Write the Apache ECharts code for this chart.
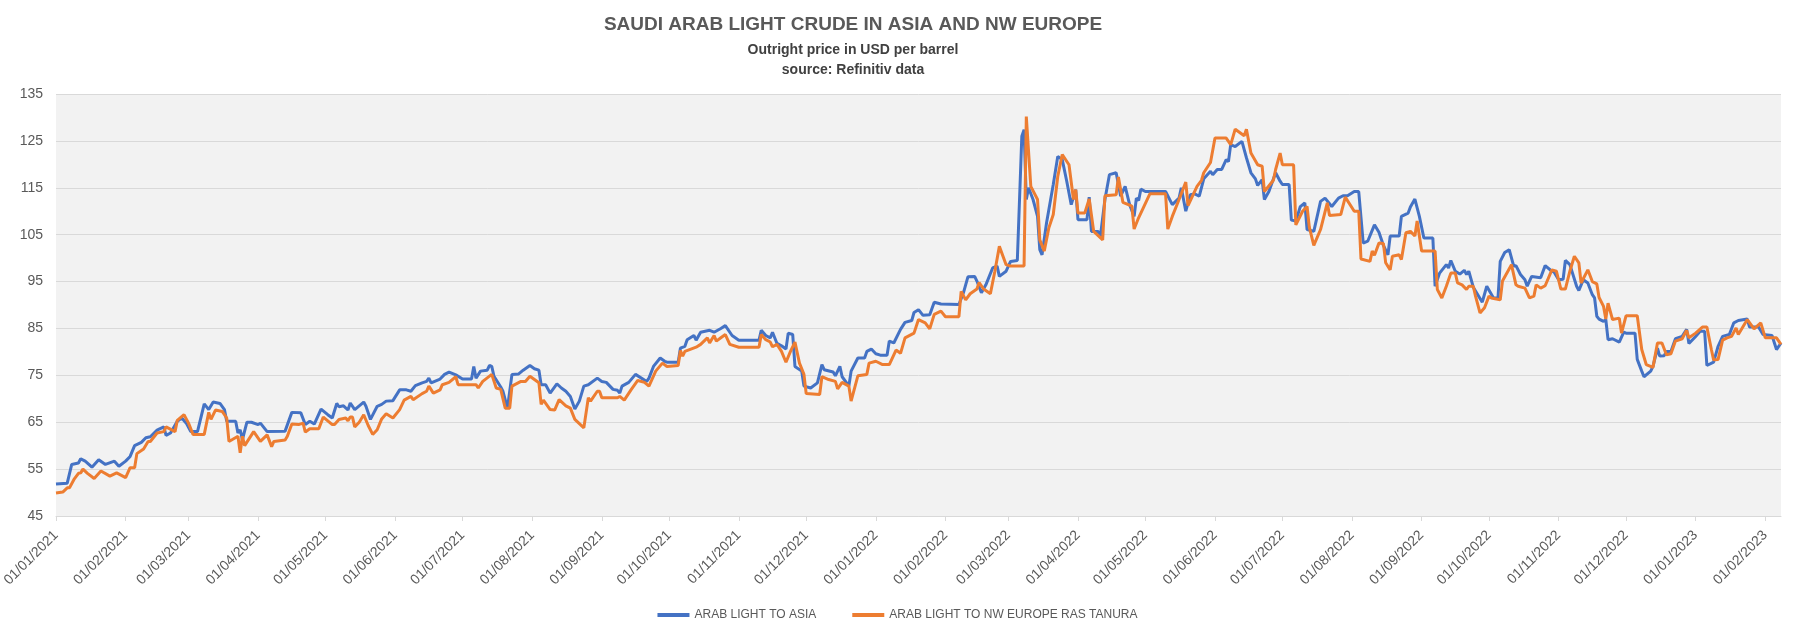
<!DOCTYPE html>
<html>
<head>
<meta charset="utf-8">
<script src="https://cdn.jsdelivr.net/npm/echarts@6/dist/echarts.min.js"></script>
<style>
html,body{margin:0;padding:0;background:#fff;}
#chart{width:1795px;height:633px;}
</style>
</head>
<body>
<div id="chart"></div>
<script>
// X values are days counted from 01/01/2021
const monthTickLabels = ['01/01/2021','01/02/2021','01/03/2021','01/04/2021','01/05/2021','01/06/2021',
  '01/07/2021','01/08/2021','01/09/2021','01/10/2021','01/11/2021','01/12/2021',
  '01/01/2022','01/02/2022','01/03/2022','01/04/2022','01/05/2022','01/06/2022',
  '01/07/2022','01/08/2022','01/09/2022','01/10/2022','01/11/2022','01/12/2022',
  '01/01/2023','01/02/2023'];

const asiaDays = [
  0,5,7,10,11,13,16,19,22,26,
  28,31,33,35,38,40,42,45,48,49,
  51,54,56,58,60,63,66,68,70,73,
  75,76,80,81,82,83,85,87,90,91,
  94,102,105,109,111,113,115,118,121,123,
  125,126,128,130,131,133,137,138,140,143,
  145,147,150,153,156,158,160,163,165,166,
  167,171,173,175,178,181,185,186,187,189,
  192,193,194,195,198,199,201,203,206,208,
  211,213,215,216,218,220,223,225,227,229,
  231,233,235,237,241,243,245,248,250,251,
  252,255,258,263,264,266,269,271,272,277,
  278,280,281,284,285,287,291,293,296,298,
  301,304,313,314,316,318,319,321,323,325,
  326,328,329,332,333,336,339,341,342,346,
  347,349,350,352,353,354,357,360,361,363,
  365,367,370,371,373,376,378,381,382,384,
  386,389,391,394,402,404,406,409,410,412,
  414,417,419,420,423,425,428,430,431,432,
  433,435,437,438,439,441,444,446,448,450,
  452,454,455,459,460,461,464,465,467,469,
  472,474,476,478,480,481,482,483,485,494,
  497,500,501,503,505,507,509,511,514,515,
  517,519,521,522,523,525,528,530,532,534,
  535,537,538,540,543,545,546,549,550,552,
  554,556,557,560,563,565,568,571,573,575,
  578,580,582,584,587,589,591,593,594,598,
  599,602,603,605,607,609,613,614,616,619,
  620,621,623,625,627,628,629,631,635,637,
  640,642,643,645,647,649,650,652,654,655,
  657,661,663,666,667,669,671,672,674,677,
  678,680,682,684,685,686,687,689,690,691,
  693,696,698,699,703,704,706,707,710,711,
  713,714,716,717,719,721,724,726,727,730,
  732,734,735,738,740,742,745,747,749,753,
  754,758,760,764,766,768
];
const asiaPrices = [
  51.8,52.0,56.0,56.3,57.2,56.7,55.4,57.0,56.0,56.7,
  55.6,56.7,57.7,60.0,60.7,61.7,61.9,63.3,64.0,62.2,
  62.7,65.2,65.9,64.8,63.0,63.0,68.9,67.7,69.3,69.0,
  67.7,65.2,65.2,62.7,63.4,61.3,65.0,65.0,64.5,64.8,
  63.0,63.1,67.1,67.0,64.5,65.2,64.6,67.8,66.6,65.9,
  69.0,68.3,68.5,67.6,69.1,67.7,69.3,68.4,65.6,68.4,
  68.8,69.5,69.6,71.9,71.9,71.6,72.8,73.4,73.7,74.4,
  73.4,74.2,75.2,75.7,75.1,74.2,74.2,76.9,74.4,75.9,
  76.1,77.1,76.9,74.8,72.5,71.6,68.0,75.2,75.3,76.1,
  77.1,76.4,76.1,73.0,73.0,71.2,73.2,72.3,71.6,70.5,
  67.8,69.5,72.7,73.0,74.4,73.7,73.5,72.0,71.8,71.2,
  72.7,73.5,75.2,73.7,74.4,76.9,78.7,78.0,77.8,77.8,
  80.8,81.2,82.6,83.5,82.5,84.2,84.6,84.2,85.0,85.6,
  83.5,82.5,82.5,84.6,83.5,83.0,84.2,81.8,81.3,80.6,
  84.0,83.7,76.9,75.9,72.7,72.3,73.4,77.3,76.2,75.7,
  74.9,76.9,74.7,73.4,72.7,75.9,78.7,78.7,80.1,80.6,
  79.6,79.3,79.3,82.3,81.9,84.8,86.3,86.7,88.4,89.0,
  87.8,87.9,90.6,90.2,90.1,92.6,96.0,96.1,95.1,92.6,
  94.3,97.9,98.3,96.1,97.2,99.3,99.5,126.0,127.4,112.5,
  115.0,112.5,108.9,101.8,100.7,107.5,115.7,121.7,121.0,116.4,
  111.4,114.6,108.2,108.2,113.0,105.7,105.7,104.7,112.5,117.8,
  118.2,113.2,115.3,111.4,108.9,112.8,112.3,114.7,114.2,114.2,
  111.4,112.8,115.0,110.0,113.5,113.7,113.2,116.9,118.5,117.8,
  118.9,118.9,121.0,120.6,124.2,123.8,124.9,121.4,118.2,116.9,
  115.5,116.7,112.5,114.2,118.2,116.4,115.7,115.7,108.1,107.9,
  111.0,111.8,106.1,105.7,112.1,112.8,111.0,112.8,113.3,113.3,
  114.2,114.2,103.2,103.6,107.1,105.5,102.7,100.7,104.7,104.7,
  108.9,109.6,110.9,112.6,108.9,104.3,104.3,94.0,96.8,98.6,
  97.9,99.5,97.2,96.6,97.4,96.5,97.2,93.8,90.6,94.0,
  91.5,91.5,99.3,101.2,101.8,98.3,98.4,96.5,95.4,94.0,
  96.1,95.8,98.4,97.2,97.0,95.4,95.5,99.5,98.6,94.0,
  93.1,95.4,94.7,92.2,91.5,87.6,87.0,86.5,86.9,82.6,
  82.8,82.1,84.2,84.0,84.0,78.4,75.9,74.7,75.9,76.9,
  80.8,79.1,79.2,80.1,80.1,82.8,83.3,84.8,81.8,83.3,
  84.4,84.4,77.1,77.8,81.2,83.3,83.7,86.2,86.7,87.0,
  85.3,85.3,83.7,83.5,80.5,81.9
];

const europeDays = [
  0,3,5,6,8,10,11,12,14,17,
  20,24,27,31,33,35,36,39,41,42,
  45,48,49,53,54,57,59,61,66,68,
  69,71,74,76,77,81,82,83,84,88,
  91,94,96,97,102,103,105,108,110,111,
  113,117,119,123,124,126,129,130,131,132,
  133,135,137,139,141,143,145,147,150,153,
  155,158,159,163,165,166,168,171,172,175,
  178,179,187,188,190,194,196,198,200,202,
  203,207,209,211,215,216,217,220,222,224,
  227,229,231,235,237,238,241,242,243,250,
  251,253,256,259,262,264,267,270,272,277,
  278,279,280,285,287,290,291,293,294,296,
  298,300,304,313,314,316,318,319,321,323,
  325,327,329,331,333,334,340,341,344,347,
  348,350,353,354,357,361,362,365,368,371,
  374,376,378,382,384,387,389,391,394,396,
  402,403,405,407,410,411,413,416,417,418,
  420,423,425,431,432,434,437,438,440,442,
  444,446,448,451,453,454,455,458,460,462,
  466,467,472,473,475,479,480,482,487,494,
  495,497,500,503,504,508,510,511,514,516,
  521,523,525,529,530,532,535,537,538,542,
  543,545,546,551,552,555,557,558,560,563,
  566,567,572,574,578,580,581,585,586,587,
  589,591,592,594,595,598,599,601,603,605,
  606,608,614,615,617,619,621,623,624,626,
  628,629,631,632,634,636,638,639,643,644,
  648,650,651,654,656,658,659,661,663,666,
  668,670,672,674,676,678,679,682,684,686,
  687,689,690,691,693,696,697,699,704,706,
  708,711,713,715,717,719,721,724,726,727,
  730,733,735,737,738,740,742,744,746,748,
  749,753,756,759,761,766,768
];
const europePrices = [
  49.9,50.1,51.0,51.0,52.8,54.1,54.2,55.0,54.1,53.0,
  54.6,53.5,54.2,53.2,55.3,55.3,58.3,59.3,60.9,60.9,
  62.7,63.0,64.0,63.0,65.4,66.6,64.8,62.4,62.4,67.1,
  65.6,67.6,67.3,65.9,60.9,62.0,58.5,62.0,60.0,63.0,
  60.9,62.3,59.8,60.9,61.2,62.0,64.6,64.5,64.8,62.9,
  63.6,63.6,66.1,64.5,64.5,65.6,65.9,65.3,66.1,66.1,
  64.0,65.0,66.6,64.3,62.4,63.4,65.7,66.8,65.9,67.7,
  69.7,70.5,69.8,71.1,71.6,72.7,71.2,71.9,73.0,73.5,
  74.7,73.0,73.0,72.3,73.7,75.2,72.3,72.0,68.0,68.0,
  72.7,73.7,73.7,74.8,73.4,68.8,69.7,67.7,67.6,69.8,
  68.5,68.0,65.6,63.8,70.2,69.5,71.6,71.6,70.2,70.2,
  70.5,69.7,71.9,73.9,73.5,72.7,75.9,77.6,76.9,77.1,
  80.3,79.1,80.1,81.0,81.6,83.0,81.9,83.5,82.3,83.0,
  83.7,81.6,81.0,81.0,83.7,82.6,82.1,81.1,81.6,80.1,
  77.8,80.1,82.1,77.6,75.2,71.1,70.9,74.7,74.1,73.7,
  72.1,73.5,72.7,69.5,74.9,75.2,77.6,78.0,77.3,77.3,
  80.4,79.7,83.0,84.0,86.9,86.2,84.9,88.0,88.7,87.5,
  87.5,92.9,91.1,92.4,93.4,94.8,93.4,92.4,94.8,97.2,
  102.5,98.6,98.3,98.3,130.2,115.3,112.5,103.9,101.5,106.4,
  109.3,117.4,122.1,119.9,112.5,114.6,109.6,109.6,112.6,105.7,
  103.9,113.3,113.5,117.3,111.9,111.1,106.2,108.6,113.7,113.7,
  106.2,108.9,112.5,116.2,111.2,115.3,116.6,118.2,120.4,125.6,
  125.6,124.2,127.5,126.1,127.5,122.4,119.9,119.6,114.2,116.6,
  118.9,122.4,119.9,119.9,107.1,110.0,111.0,106.6,102.7,106.1,
  111.8,109.1,109.3,113.0,110.0,110.0,99.8,99.3,101.5,100.6,
  103.2,103.1,99.0,97.5,100.4,100.7,99.7,105.4,105.7,104.7,
  107.9,101.5,101.5,93.3,91.5,94.0,96.8,96.8,94.7,94.3,
  93.3,94.0,94.0,91.9,88.3,89.4,91.9,91.5,91.1,95.1,
  98.6,94.3,94.0,93.6,91.5,91.9,94.3,93.6,94.1,97.5,
  97.2,93.4,93.4,97.2,100.4,99.0,94.7,97.5,95.0,94.5,
  91.6,89.7,87.0,90.4,86.9,87.2,84.0,87.7,87.7,80.5,
  77.3,76.7,81.9,81.9,79.4,79.6,82.3,82.8,84.6,83.0,
  84.0,85.3,85.3,80.5,78.3,78.4,82.5,83.0,83.3,85.1,
  83.7,86.9,84.9,86.2,83.0,83.0,81.6
];

const yTicks = { min: 45, max: 135, step: 10 };

function dayToTime(d) { return new Date(2021, 0, 1 + d).getTime(); }
function labelToTime(s) { const p = s.split('/'); return new Date(+p[2], +p[1] - 1, +p[0]).getTime(); }
function pad(n) { return (n < 10 ? '0' : '') + n; }
function fmt(v) { const d = new Date(v); return pad(d.getDate()) + '/' + pad(d.getMonth() + 1) + '/' + d.getFullYear(); }

const monthTicks = monthTickLabels.map(labelToTime);
const asiaData = asiaDays.map((d, i) => [dayToTime(d), asiaPrices[i]]);
const europeData = europeDays.map((d, i) => [dayToTime(d), europePrices[i]]);
const xMax = dayToTime(Math.max(asiaDays[asiaDays.length - 1], europeDays[europeDays.length - 1]));

const chart = echarts.init(document.getElementById('chart'), null, { renderer: 'canvas' });
const FONT = 'Liberation Sans';
chart.setOption({
  animation: false,
  backgroundColor: '#ffffff',
  title: [
    { text: 'SAUDI ARAB LIGHT CRUDE IN ASIA AND NW EUROPE', left: 853, top: 15, textAlign: 'center', padding: 0,
      textStyle: { fontFamily: FONT, fontWeight: 'bold', fontSize: 19, color: '#595959' } },
    { text: 'Outright price in USD per barrel', left: 853, top: 43, textAlign: 'center', padding: 0,
      textStyle: { fontFamily: FONT, fontWeight: 'bold', fontSize: 14, color: '#404040' } },
    { text: 'source: Refinitiv data', left: 853, top: 63, textAlign: 'center', padding: 0,
      textStyle: { fontFamily: FONT, fontWeight: 'bold', fontSize: 14, color: '#404040' } }
  ],
  legend: {
    bottom: 7, left: 'center', icon: 'rect', itemWidth: 32, itemHeight: 4, itemGap: 36,
    textStyle: { fontFamily: FONT, fontSize: 12, color: '#595959' },
    data: ['ARAB LIGHT TO ASIA', 'ARAB LIGHT TO NW EUROPE RAS TANURA']
  },
  grid: {
    left: 56, right: 14, top: 94, bottom: 117, containLabel: false, outerBoundsMode: 'none',
    show: true, backgroundColor: '#f2f2f2', borderWidth: 0
  },
  xAxis: {
    type: 'value',
    min: monthTicks[0],
    max: xMax,
    axisLine: { show: true, lineStyle: { color: '#d9d9d9', width: 1 } },
    axisTick: { show: true, customValues: monthTicks, length: 5, lineStyle: { color: '#d9d9d9' } },
    axisLabel: {
      customValues: monthTicks, rotate: 45, margin: 17, hideOverlap: false,
      showMinLabel: true, showMaxLabel: true,
      fontFamily: FONT, fontSize: 14, color: '#595959',
      formatter: function (v) { return fmt(v); }
    },
    splitLine: { show: false }
  },
  yAxis: {
    type: 'value', min: yTicks.min, max: yTicks.max, interval: yTicks.step,
    axisLine: { show: false }, axisTick: { show: false },
    axisLabel: { fontFamily: FONT, fontSize: 14, color: '#595959', margin: 13 },
    splitLine: { lineStyle: { color: '#d9d9d9', width: 1 } }
  },
  series: [
    { name: 'ARAB LIGHT TO ASIA', type: 'line', data: asiaData, showSymbol: false, symbol: 'none',
      lineStyle: { width: 3, color: '#4472c4' }, itemStyle: { color: '#4472c4' } },
    { name: 'ARAB LIGHT TO NW EUROPE RAS TANURA', type: 'line', data: europeData, showSymbol: false, symbol: 'none',
      lineStyle: { width: 3, color: '#ed7d31' }, itemStyle: { color: '#ed7d31' } }
  ]
});
</script>
</body>
</html>
